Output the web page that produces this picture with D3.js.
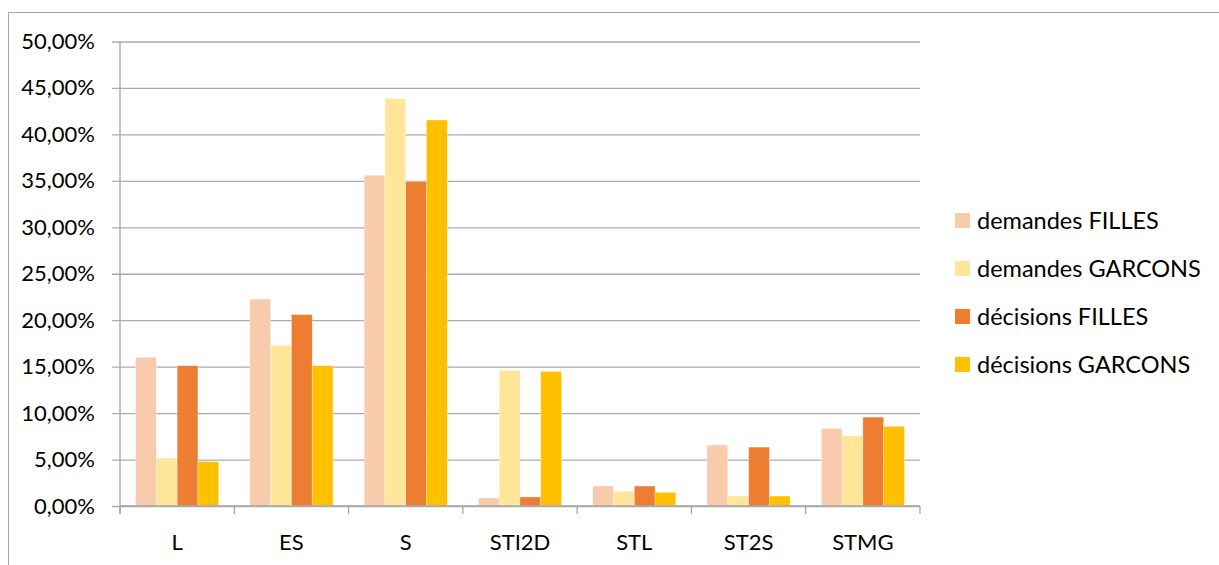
<!DOCTYPE html>
<html>
<head>
<meta charset="utf-8">
<script src="https://cdn.jsdelivr.net/npm/d3@7"></script>
<style>
  body { margin: 0; background: #fff; }
  text { font-family: Lato, "Open Sans", sans-serif; fill: #000; }
</style>
</head>
<body>
<div id="graph"></div>
<script>
var categories = ['L', 'ES', 'S', 'STI2D', 'STL', 'ST2S', 'STMG']
var seriesNames = ['demandes FILLES', 'demandes GARCONS', 'décisions FILLES', 'décisions GARCONS']
var demandesFilles   = [0.160, 0.2226, 0.356, 0.0086, 0.0215, 0.0656, 0.0835]
var demandesGarcons  = [0.0516, 0.173, 0.4385, 0.146, 0.0158, 0.0107, 0.0756]
var decisionsFilles  = [0.151, 0.206, 0.349, 0.0097, 0.0215, 0.0634, 0.0957]
var decisionsGarcons = [0.0477, 0.151, 0.4155, 0.145, 0.0147, 0.0107, 0.0857]
var yTicks = [0, 0.05, 0.10, 0.15, 0.20, 0.25, 0.30, 0.35, 0.40, 0.45, 0.50]
var colors = ['#F8CBAD', '#FFE699', '#ED7D31', '#FFC000']

var allSeries = [demandesFilles, demandesGarcons, decisionsFilles, decisionsGarcons]

var width = 1219, height = 565
var plot = {left: 120, right: 920, top: 41.5, bottom: 506}

var svg = d3.select('#graph')
  .append('svg')
  .attr('width', width)
  .attr('height', height)

// outer chart frame
svg.append('rect')
  .attr('x', 8.5).attr('y', 12.5)
  .attr('width', 1400).attr('height', 800)
  .attr('fill', 'none')
  .attr('stroke', '#a6a6a6')
  .attr('stroke-width', 1)

var x0 = d3.scaleBand()
  .domain(categories)
  .range([plot.left, plot.right])
  .padding(0)

var x1 = d3.scaleBand()
  .domain(seriesNames)
  .range([0, x0.bandwidth()])
  .paddingInner(0)
  .paddingOuter(0.75)

var y = d3.scaleLinear()
  .domain([0, 0.5])
  .range([plot.bottom, plot.top])

var fr = d3.formatLocale({decimal: ',', thousands: ' ', grouping: [3], currency: ['', '€']})
var pct = fr.format('.2%')

// gridlines with tick marks
var yAxis = d3.axisLeft(y)
  .tickValues(yTicks)
  .tickFormat(pct)
  .tickSize(-(plot.right - plot.left) - 8)
  .tickPadding(17)

var gy = svg.append('g')
  .attr('transform', 'translate(' + (plot.left - 8) + ',0)')
  .call(yAxis)
gy.select('.domain').remove()
gy.selectAll('line')
  .attr('stroke', '#ababab')
  .attr('stroke-width', 1.3)
gy.selectAll('text')
  .style('font-size', '22px')

// bars
var groups = svg.selectAll('.cat')
  .data(categories)
  .enter().append('g')
  .attr('class', 'cat')
  .attr('transform', d => 'translate(' + x0(d) + ',0)')

groups.selectAll('rect')
  .data((d, i) => allSeries.map((s, j) => ({name: seriesNames[j], value: s[i], color: colors[j]})))
  .enter().append('rect')
  .attr('x', d => x1(d.name))
  .attr('y', d => y(d.value))
  .attr('width', x1.bandwidth())
  .attr('height', d => y(0) - y(d.value))
  .attr('fill', d => d.color)
  .attr('stroke', '#fff')
  .attr('stroke-opacity', 0.5)
  .attr('stroke-width', 0.6)

// x axis
var gx = svg.append('g')
  .attr('transform', 'translate(0,' + plot.bottom + ')')
gx.append('line')
  .attr('x1', plot.left).attr('x2', plot.right)
  .attr('stroke', '#a6a6a6').attr('stroke-width', 1.3)
var xTickPos = categories.map(c => x0(c)).concat([plot.right])
gx.selectAll('.xt')
  .data(xTickPos)
  .enter().append('line')
  .attr('class', 'xt')
  .attr('x1', d => d).attr('x2', d => d)
  .attr('y1', 0).attr('y2', 8)
  .attr('stroke', '#a6a6a6').attr('stroke-width', 1.3)
gx.selectAll('.xl')
  .data(categories)
  .enter().append('text')
  .attr('class', 'xl')
  .attr('x', d => x0(d) + x0.bandwidth() / 2)
  .attr('y', 44)
  .attr('text-anchor', 'middle')
  .style('font-size', '22px')
  .text(d => d)

// y axis line
svg.append('line')
  .attr('x1', plot.left).attr('x2', plot.left)
  .attr('y1', plot.top).attr('y2', plot.bottom + 8)
  .attr('stroke', '#a6a6a6').attr('stroke-width', 1.3)

// legend
var legend = svg.selectAll('.legend')
  .data(seriesNames)
  .enter().append('g')
  .attr('class', 'legend')
  .attr('transform', (d, i) => 'translate(955,' + (220.5 + i * 48) + ')')

legend.append('rect')
  .attr('x', 0).attr('y', -7.5)
  .attr('width', 15).attr('height', 15)
  .attr('fill', (d, i) => colors[i])

legend.append('text')
  .attr('x', 22)
  .attr('y', 0)
  .attr('dy', '0.35em')
  .style('font-size', '23.5px')
  .text(d => d)
</script>
</body>
</html>
